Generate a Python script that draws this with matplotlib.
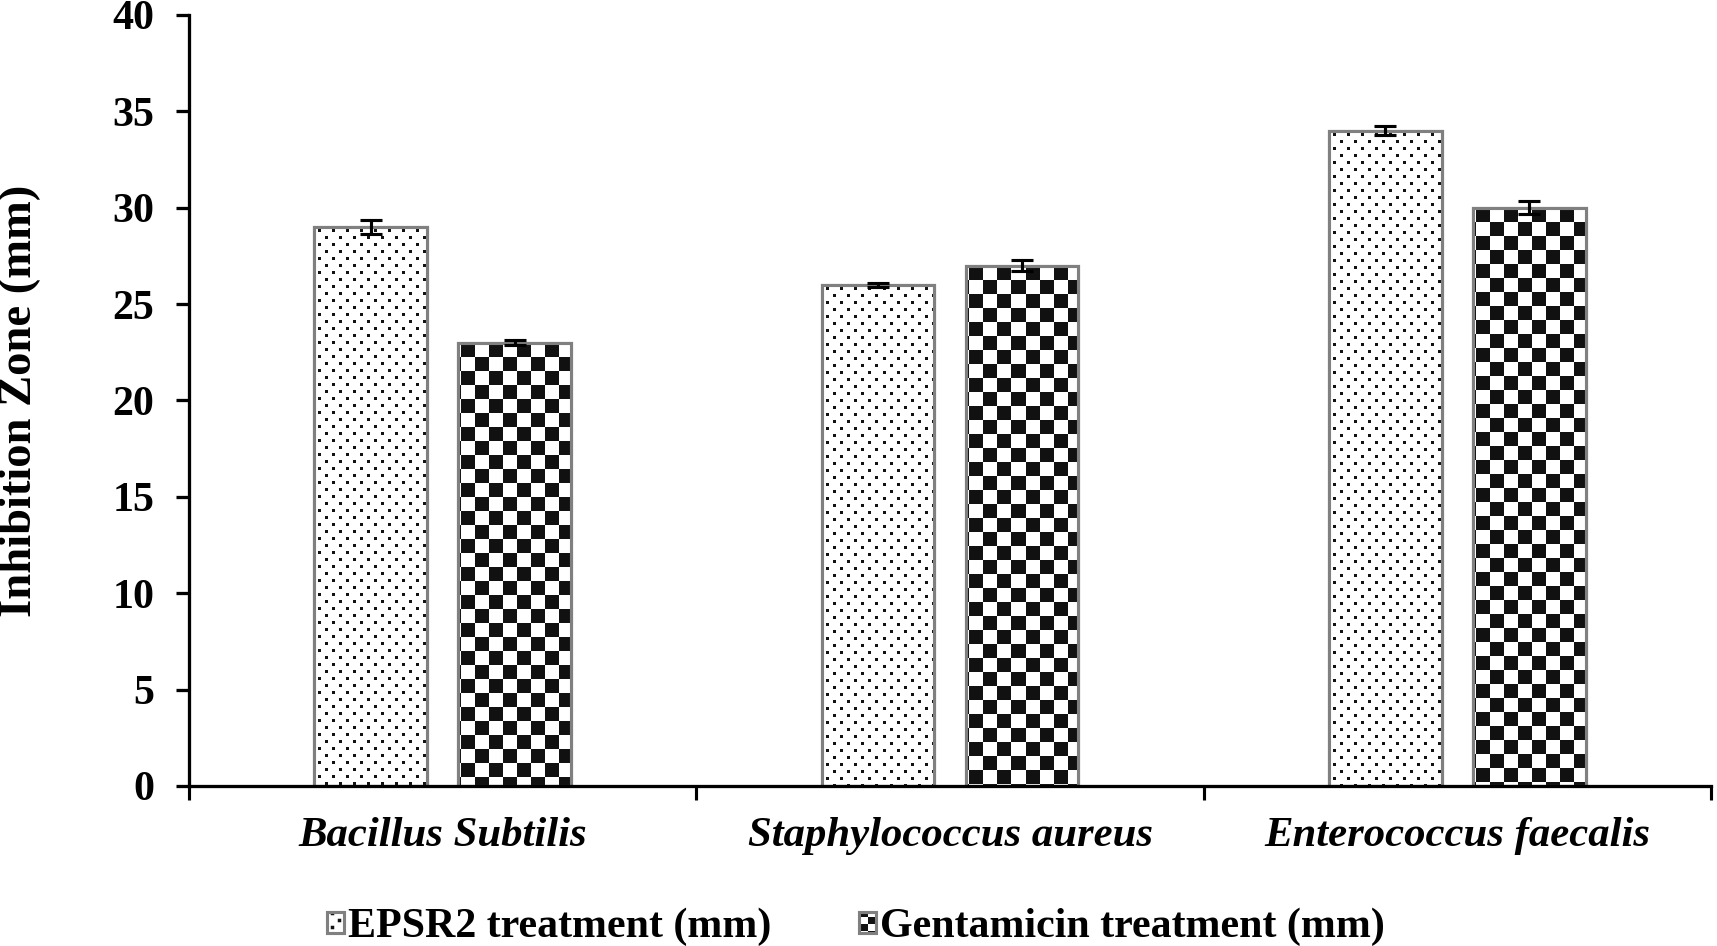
import numpy as np
import matplotlib
matplotlib.use("Agg")
import matplotlib.pyplot as plt
import matplotlib.hatch as mhatch
from matplotlib.path import Path
from matplotlib.patches import Patch
from matplotlib.legend_handler import HandlerTuple

# ---------------- data ----------------
categories = ["Bacillus Subtilis", "Staphylococcus aureus", "Enterococcus faecalis"]
series_names = ["EPSR2 treatment (mm)", "Gentamicin treatment (mm)"]
epsr2_values = [29, 26, 34]
epsr2_errors = [0.35, 0.1, 0.25]
gentamicin_values = [23, 27, 30]
gentamicin_errors = [0.12, 0.3, 0.35]
y_ticks = [0, 5, 10, 15, 20, 25, 30, 35, 40]

DPI = 112
INK = 0.07


# ---------------- custom hatch patterns (used for legend keys) ----------------
class DotHatch(mhatch.HatchPatternBase):
    ROWS, COLS, SIZE = 16, 8, 3.5 / 112

    def __init__(self, hatch, density):
        self.pts = []
        if hatch.count('o') > 0:
            for r in range(self.ROWS):
                y = (r + 0.5) / self.ROWS
                off = 0.25 if r % 2 == 0 else 0.75
                for c in range(self.COLS):
                    self.pts.append(((c + off) / self.COLS, y))
        self.num_vertices = len(self.pts) * 5

    def set_vertices_and_codes(self, vertices, codes):
        h = self.SIZE / 2
        k = 0
        for (x, y) in self.pts:
            vertices[k:k + 5] = [(x - h, y - h), (x + h, y - h), (x + h, y + h),
                                 (x - h, y + h), (x - h, y - h)]
            codes[k:k + 5] = [Path.MOVETO, Path.LINETO, Path.LINETO,
                              Path.LINETO, Path.CLOSEPOLY]
            k += 5


class CheckerHatch(mhatch.HatchPatternBase):
    N = 16

    def __init__(self, hatch, density):
        n = self.N
        self.cells = [(i, j) for i in range(n) for j in range(n)
                      if (i + j) % 2 == 0] if hatch.count('O') > 0 else []
        self.num_vertices = len(self.cells) * 5

    def set_vertices_and_codes(self, vertices, codes):
        s = 1.0 / self.N
        k = 0
        for (i, j) in self.cells:
            x0, y0 = i * s, j * s
            vertices[k:k + 5] = [(x0, y0), (x0 + s, y0), (x0 + s, y0 + s),
                                 (x0, y0 + s), (x0, y0)]
            codes[k:k + 5] = [Path.MOVETO, Path.LINETO, Path.LINETO,
                              Path.LINETO, Path.CLOSEPOLY]
            k += 5


mhatch._hatch_types = [t for t in mhatch._hatch_types
                       if t not in (mhatch.SmallCircles, mhatch.LargeCircles)] + [DotHatch, CheckerHatch]

plt.rcParams['font.family'] = ['Liberation Serif', 'DejaVu Serif']
plt.rcParams['hatch.linewidth'] = 0.0


def dot_pattern(h, w):
    """Staggered square dots: rows every 7 px, dots every 14 px, 3 px big."""
    img = np.ones((h, w))
    rr, cc = np.mgrid[0:h, 0:w]
    row_idx = rr // 7
    shift = np.where(row_idx % 2 == 0, 0, 7)
    on = ((rr % 7) >= 2) & ((rr % 7) < 5) & (((cc + shift) % 14) >= 4) & (((cc + shift) % 14) < 7)
    img[on] = INK
    return img


def checker_pattern(h, w):
    img = np.ones((h, w))
    rr, cc = np.mgrid[0:h, 0:w]
    on = ((rr // 14 + (cc + 11) // 14) % 2) == 1
    img[on] = INK
    return img


fig = plt.figure(figsize=(1717 / DPI, 946 / DPI), dpi=DPI)
ax = fig.add_axes([189 / 1717, 1 - 786 / 946, (1711 - 189) / 1717, (786 - 15) / 946])

x = np.arange(len(categories))
width = 0.222
offset = 0.142
edge_gray = '#808080'
edge_lw = 2.0

ax.set_xlim(-0.5, len(categories) - 0.5)
ax.set_ylim(0, 40)

bars1 = ax.bar(x - offset, epsr2_values, width, facecolor='white', edgecolor=edge_gray,
               linewidth=edge_lw, zorder=3)
bars2 = ax.bar(x + offset, gentamicin_values, width, facecolor='white', edgecolor=edge_gray,
               linewidth=edge_lw, zorder=3)

fig.canvas.draw()
inv = ax.transData.inverted()


def fill_bar(rect, pattern_fn):
    (px0, py0) = ax.transData.transform((rect.get_x(), rect.get_y()))
    (px1, py1) = ax.transData.transform((rect.get_x() + rect.get_width(),
                                         rect.get_y() + rect.get_height()))
    ix0, ix1 = int(round(px0)), int(round(px1))
    iy0, iy1 = int(round(py0)), int(round(py1))
    img = pattern_fn(iy1 - iy0, ix1 - ix0)
    (dx0, dy0) = inv.transform((ix0, iy0))
    (dx1, dy1) = inv.transform((ix1, iy1))
    rgb = np.dstack([img, img, img])
    ax.imshow(rgb, extent=(dx0, dx1, dy0, dy1), origin='upper', interpolation='none',
              aspect='auto', zorder=3.5)


for r in bars1:
    fill_bar(r, dot_pattern)
for r in bars2:
    fill_bar(r, checker_pattern)

# gray outlines on top of patterns
ax.bar(x - offset, epsr2_values, width, fill=False, edgecolor=edge_gray, linewidth=edge_lw, zorder=4)
ax.bar(x + offset, gentamicin_values, width, fill=False, edgecolor=edge_gray, linewidth=edge_lw, zorder=4)

# error bars
ax.errorbar(x - offset, epsr2_values, yerr=epsr2_errors, fmt='none', ecolor='black',
            elinewidth=2.0, capsize=7, capthick=2.0, zorder=5)
ax.errorbar(x + offset, gentamicin_values, yerr=gentamicin_errors, fmt='none', ecolor='black',
            elinewidth=2.0, capsize=7, capthick=2.0, zorder=5)

ax.set_xlim(-0.5, len(categories) - 0.5)
ax.set_ylim(0, 40)
ax.set_yticks(y_ticks)
ax.set_yticklabels([str(v) for v in y_ticks], fontsize=27, fontweight='bold')

ax.set_xticks(np.arange(-0.5, len(categories), 1.0))
ax.set_xticklabels([])
ax.set_xticks(x, minor=True)
ax.set_xticklabels(categories, minor=True, fontsize=27.5, fontweight='bold', fontstyle='italic')
ax.tick_params(axis='x', which='minor', length=0, pad=20)
ax.tick_params(axis='x', which='major', length=9, width=2.0, direction='out', color='black')
ax.tick_params(axis='y', length=8.4, width=2.1, direction='out', pad=14, color='black')

for s in ['top', 'right']:
    ax.spines[s].set_visible(False)
for s in ['left', 'bottom']:
    ax.spines[s].set_linewidth(2.1)
    ax.spines[s].set_color('black')
    ax.spines[s].set_zorder(6)

ax.set_ylabel("Inhibition Zone (mm)", fontsize=30, fontweight='bold', va='center')
ax.yaxis.set_label_coords((20 - 189) / (1711 - 189), 0.5)

ink_c = (INK, INK, INK)
h1 = (Patch(facecolor='white', edgecolor=ink_c, linewidth=0, hatch='o'),
      Patch(fill=False, edgecolor=edge_gray, linewidth=2.0))
h2 = (Patch(facecolor='white', edgecolor=ink_c, linewidth=0, hatch='O'),
      Patch(fill=False, edgecolor=edge_gray, linewidth=2.0))
fig.legend([h1, h2], series_names, handler_map={tuple: HandlerTuple(ndivide=1, pad=0)},
           loc='center', bbox_to_anchor=(856 / 1717, 1 - 927 / 946), ncol=2, frameon=False,
           prop={'size': 27, 'weight': 'bold'}, handlelength=0.4, handleheight=0.4,
           handletextpad=0.1, columnspacing=2.1, borderpad=0, borderaxespad=0)

fig.savefig("out.png", dpi=DPI)
